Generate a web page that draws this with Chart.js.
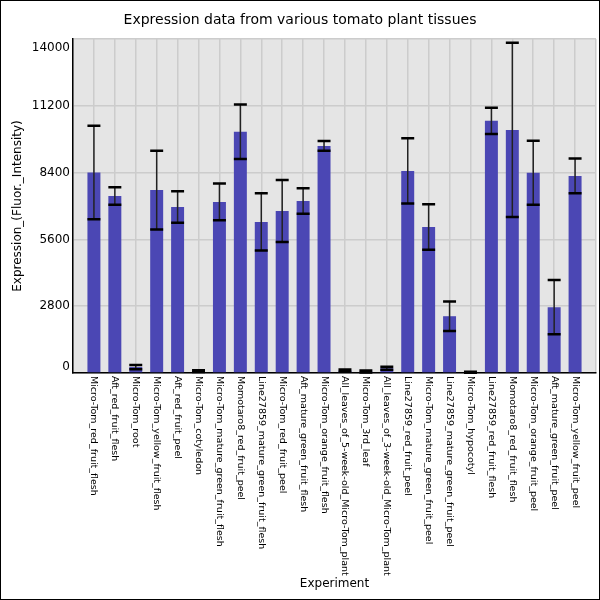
<!DOCTYPE html>
<html>
<head>
<meta charset="utf-8">
<script src="https://cdn.jsdelivr.net/npm/chart.js@4/dist/chart.umd.min.js"></script>
<style>
  html,body{margin:0;padding:0;background:#fff;}
  #wrap{width:600px;height:600px;}
</style>
</head>
<body>
<div id="wrap"><canvas id="chart" width="600" height="600"></canvas></div>
<script>
// tissue names (x categories)
const tissues = [
  "Micro-Tom_red_fruit_flesh",
  "Aft_red_fruit_flesh",
  "Micro-Tom_root",
  "Micro-Tom_yellow_fruit_flesh",
  "Aft_red_fruit_peel",
  "Micro-Tom_cotyledon",
  "Micro-Tom_mature_green_fruit_flesh",
  "Momotaro8_red_fruit_peel",
  "Line27859_mature_green_fruit_flesh",
  "Micro-Tom_red_fruit_peel",
  "Aft_mature_green_fruit_flesh",
  "Micro-Tom_orange_fruit_flesh",
  "All_leaves_of_5-week-old_Micro-Tom_plant",
  "Micro-Tom_3rd_leaf",
  "All_leaves_of_3-week-old_Micro-Tom_plant",
  "Line27859_red_fruit_peel",
  "Micro-Tom_mature_green_fruit_peel",
  "Line27859_mature_green_fruit_peel",
  "Micro-Tom_hypocotyl",
  "Line27859_red_fruit_flesh",
  "Momotaro8_red_fruit_flesh",
  "Micro-Tom_orange_fruit_peel",
  "Aft_mature_green_fruit_peel",
  "Micro-Tom_yellow_fruit_peel"
];

// mean expression and +/- error
const expression = [8400, 7420, 250, 7670, 6960, 80, 7170, 10110, 6330, 6790, 7210, 9520,
                    100, 60, 200, 8470, 6120, 2380, 30, 10570, 10190, 8390, 2760, 8260];
const errors = [1960, 370, 90, 1650, 660, 40, 770, 1140, 1200, 1300, 530, 200,
                50, 40, 60, 1370, 950, 620, 20, 550, 3650, 1340, 1140, 730];

const yTicks = [0, 2800, 5600, 8400, 11200, 14000];

Chart.defaults.font.family = "'DejaVu Sans', sans-serif";
Chart.defaults.color = "#000";

// plot background + outer frame
const backgroundPlugin = {
  id: "plotBg",
  beforeDraw(chart){
    const {ctx, chartArea:a} = chart;
    ctx.save();
    ctx.fillStyle = "#fff";
    ctx.fillRect(0, 0, chart.width, chart.height);
    ctx.fillStyle = "#e5e5e5";
    ctx.fillRect(a.left, a.top, a.right - a.left, a.bottom - a.top);
    ctx.restore();
  },
  afterDraw(chart){
    const ctx = chart.ctx;
    ctx.save();
    ctx.strokeStyle = "#000";
    ctx.lineWidth = 1;
    ctx.strokeRect(0.5, 0.5, chart.width - 1, chart.height - 1);
    ctx.restore();
  }
};

// error bars drawn with the chart scales
const errorBarPlugin = {
  id: "errorBars",
  afterDatasetsDraw(chart){
    const ctx = chart.ctx;
    const xs = chart.scales.x, ys = chart.scales.y;
    const bars = chart.getDatasetMeta(0).data;
    ctx.save();
    expression.forEach((v, i) => {
      const x = xs.getPixelForValue(i);
      const top = ys.getPixelForValue(v + errors[i]);
      const bot = ys.getPixelForValue(Math.max(0, v - errors[i]));
      const half = bars[i].width / 2;
      ctx.strokeStyle = "#222";
      ctx.lineWidth = 1.5;
      ctx.beginPath();
      ctx.moveTo(x, top);
      ctx.lineTo(x, bot);
      ctx.stroke();
      ctx.strokeStyle = "#000";
      ctx.lineWidth = 2.5;
      ctx.beginPath();
      ctx.moveTo(x - half, top); ctx.lineTo(x + half, top);
      ctx.moveTo(x - half, bot); ctx.lineTo(x + half, bot);
      ctx.stroke();
    });
    ctx.restore();
  }
};

// tick labels: x names read top-down, y end labels pulled inside the plot
const tickLabelPlugin = {
  id: "tickLabels",
  afterDraw(chart){
    const ctx = chart.ctx;
    const xs = chart.scales.x, ys = chart.scales.y;
    const a = chart.chartArea;
    ctx.save();
    ctx.fillStyle = "#000";
    ctx.font = "9.5px 'DejaVu Sans'";
    ctx.textAlign = "left";
    ctx.textBaseline = "middle";
    tissues.forEach((name, i) => {
      ctx.save();
      ctx.translate(xs.getPixelForValue(i), a.bottom + 3);
      ctx.rotate(Math.PI / 2);
      ctx.fillText(name, 0, 0);
      ctx.restore();
    });
    ctx.font = "12px 'DejaVu Sans'";
    ctx.textAlign = "right";
    yTicks.forEach((t, i) => {
      let y = ys.getPixelForValue(t);
      if (i === 0) y -= 6;
      if (i === yTicks.length - 1) y += 9;
      ctx.fillText(String(t), a.left - 3, y);
    });
    ctx.restore();
  }
};

new Chart(document.getElementById("chart"), {
  type: "bar",
  data: {
    datasets: [{
      data: tissues.map((t, i) => ({x: i, y: expression[i]})),
      backgroundColor: "rgb(75,71,180)",
      borderWidth: 0,
      barPercentage: 0.62,
      categoryPercentage: 1
    }]
  },
  options: {
    responsive: false,
    animation: false,
    devicePixelRatio: 1,
    layout: {padding: {top: 0, left: 4, right: 4, bottom: 0}},
    plugins: {
      legend: {display: false},
      tooltip: {enabled: false},
      title: {
        display: true,
        text: "Expression data from various tomato plant tissues",
        font: {size: 14, weight: "normal"},
        color: "#000",
        padding: {top: 11.6, bottom: 10.6}
      }
    },
    scales: {
      x: {
        type: "linear",
        offset: false,
        min: -1,
        max: 24,
        ticks: {stepSize: 1, display: false},
        grid: {color: "#cccccc", lineWidth: 1.5, drawTicks: false, offset: false},
        border: {display: true, color: "#000", width: 1.5},
        title: {display: true, text: "Experiment", font: {size: 12}, color: "#000", padding: {top: 4, bottom: 8.8}},
        afterFit(scale){ scale.height = 227; }
      },
      y: {
        min: 0,
        max: 14000,
        ticks: {stepSize: 2800, display: false},
        grid: {color: "#cccccc", lineWidth: 1.5, drawTicks: false},
        border: {display: true, color: "#000", width: 1.5},
        title: {display: true, text: "Expression_(Fluor._Intensity)", font: {size: 12}, color: "#000", padding: {top: 6.8, bottom: 0}},
        afterFit(scale){ scale.width = 69; }
      }
    }
  },
  plugins: [backgroundPlugin, errorBarPlugin, tickLabelPlugin]
});
</script>
</body>
</html>
